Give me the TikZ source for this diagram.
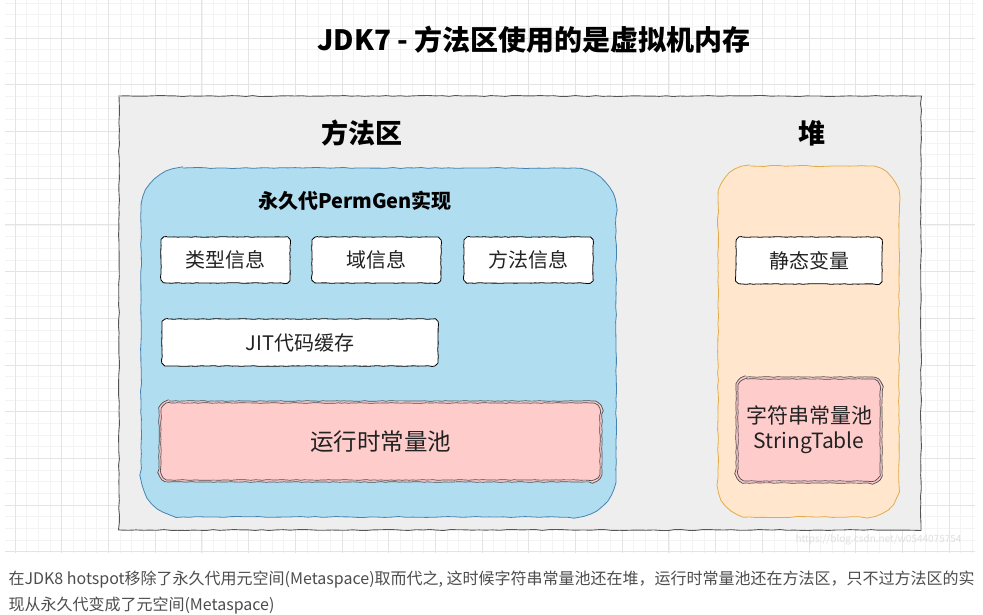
\documentclass[tikz,border=0pt]{standalone}
\usepackage{fontspec}
\setmainfont{Noto Sans CJK SC}
\usetikzlibrary{decorations.pathmorphing}
\definecolor{gridminor}{HTML}{F3F3F3}
\definecolor{gridmajor}{HTML}{E4E4E4}
\definecolor{outerfill}{HTML}{EEEEEE}
\definecolor{outerline}{HTML}{555555}
\definecolor{bluefill}{HTML}{B1DDF0}
\definecolor{blueline}{HTML}{4584B0}
\definecolor{orangefill}{HTML}{FFE6CC}
\definecolor{orangeline}{HTML}{E2AB48}
\definecolor{pinkfill}{HTML}{FFCCCC}
\definecolor{darkline}{HTML}{4A4A4F}
\definecolor{txt}{HTML}{222222}
\definecolor{captxt}{HTML}{4D4D4D}
\tikzset{
  sketch/.style={decorate, decoration={random steps, segment length=7pt, amplitude=0.5pt}},
  finesketch/.style={decorate, decoration={random steps, segment length=3.5pt, amplitude=0.3pt}},
  outerstyle/.style={sketch, draw=outerline, fill=outerfill, line width=0.9pt},
  bluestyle/.style={sketch, draw=blueline, fill=bluefill, line width=0.8pt},
  orangestyle/.style={sketch, draw=orangeline, fill=orangefill, line width=0.8pt},
  whitestyle/.style={finesketch, draw=black, fill=white, line width=0.8pt, line join=round},
  pinkstyle/.style={finesketch, draw=darkline, fill=pinkfill, line width=0.7pt, line join=round},
  pinkline/.style={finesketch, draw=darkline, line width=0.7pt, line join=round},
  boxtext/.style={font=\fontsize{20}{24}\selectfont, text=txt, inner sep=0pt},
  heading/.style={font=\fontsize{27}{30}\selectfont\bfseries, text=black},
}
% #1 style, #2 x1, #3 y1, #4 x2, #5 y2, #6 corner radius
\newcommand\skbox[6]{%
  \path[#1] ({#2+#6},#3) -- ({#4-#6},#3) arc[start angle=-90,end angle=0,radius=#6]
    -- (#4,{#5-#6}) arc[start angle=0,end angle=90,radius=#6]
    -- ({#2+#6},#5) arc[start angle=90,end angle=180,radius=#6]
    -- (#2,{#3+#6}) arc[start angle=180,end angle=270,radius=#6] -- cycle;}
\begin{document}
\begin{tikzpicture}[x=1pt, y=-1pt]
\useasboundingbox (0,0) rectangle (983,615);
\fill[white] (0,0) rectangle (983,615);
% grid
\begin{scope}
\clip (5,0) rectangle (975,553);
\foreach \i in {-4,...,84} {
  \draw[gridminor, line width=0.6pt] ({15+11.675*\i},0) -- ({15+11.675*\i},553);
}
\foreach \i in {-4,...,48} {
  \draw[gridminor, line width=0.6pt] (5,{38+11.675*\i}) -- (975,{38+11.675*\i});
}
\foreach \i in {-1,...,21} {
  \draw[gridmajor, line width=0.8pt] ({15+46.7*\i},0) -- ({15+46.7*\i},553);
}
\foreach \i in {-1,...,12} {
  \draw[gridmajor, line width=0.8pt] (5,{38+46.7*\i}) -- (975,{38+46.7*\i});
}
\end{scope}

% title
\node[font=\fontsize{28}{32}\selectfont\bfseries, text=black] (title) at (534,40) {JDK7 - 方法区使用的是虚拟机内存};

% outer region
\skbox{outerstyle}{119}{96}{921}{530}{1}
\node[heading] (mhead) at (362,133) {方法区};
\node[heading] (hhead) at (812,133) {堆};

% method area (PermGen)
\skbox{bluestyle}{141}{168}{616}{517}{42}
\node[font=\fontsize{20}{24}\selectfont\bfseries, text=black] (permlbl) at (355,201) {永久代PermGen实现};

\skbox{whitestyle}{161}{237}{290}{283}{6}
\node[boxtext] (type) at (225.5,260) {类型信息};
\skbox{whitestyle}{312}{237}{441}{283}{6}
\node[boxtext] (field) at (376.5,260) {域信息};
\skbox{whitestyle}{464}{237}{593}{283}{6}
\node[boxtext] (meth) at (528.5,260) {方法信息};
\skbox{whitestyle}{162}{319}{438}{366}{6}
\node[boxtext] (jit) at (300,342.5) {JIT代码缓存};

\skbox{pinkstyle}{159}{401}{602}{482}{10}
\skbox{pinkline}{161}{403}{600}{480}{9}
\node[boxtext, font=\fontsize{23.5}{28}\selectfont] (rcp) at (380.5,441.5) {运行时常量池};

% heap
\skbox{orangestyle}{718}{166}{899}{517}{32}
\skbox{whitestyle}{736}{237}{882}{284}{6}
\node[boxtext] (static) at (809,260.5) {静态变量};
\skbox{pinkstyle}{736}{377}{882}{483}{10}
\skbox{pinkline}{738}{379}{880}{481}{9}
\node[boxtext, font=\fontsize{21}{25}\selectfont, align=center] (strpool) at (809,430) {字符串常量池\\StringTable};

% watermark
\node[text=black!12, font=\fontsize{10}{12}\selectfont, anchor=east] (wm) at (965,540) {https://blog.csdn.net/w0544075754};

% caption
\node[anchor=west, text=captxt, font=\fontsize{16}{18}\selectfont] (cap1) at (5,580) {在JDK8 hotspot移除了永久代用元空间(Metaspace)取而代之, 这时候字符串常量池还在堆，运行时常量池还在方法区，只不过方法区的实};
\node[anchor=west, text=captxt, font=\fontsize{16}{18}\selectfont] (cap2) at (5,606) {现从永久代变成了元空间(Metaspace)};
\end{tikzpicture}
\end{document}
